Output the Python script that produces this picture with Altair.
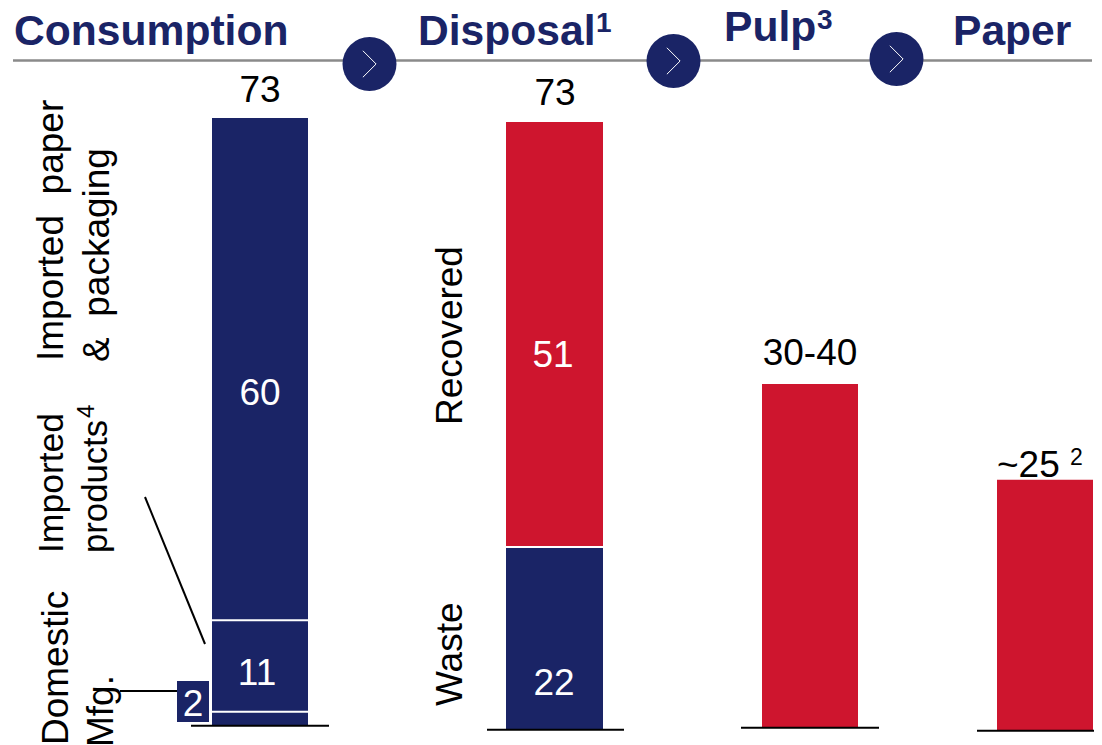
import altair as alt
import pandas as pd

# ---- values ----
STEPS = ["Consumption", "Disposal", "Pulp", "Paper"]
CONSUMPTION_PARTS = ["Domestic Mfg.", "Imported products", "Imported paper & packaging"]
CONSUMPTION_VALUES = [1.6, 11.0, 60.4]      # drawn heights, Mt
CONSUMPTION_LABELS = ["2", "11", "60"]
DISPOSAL_PARTS = ["Waste", "Recovered"]
DISPOSAL_VALUES = [21.9, 51.1]
DISPOSAL_LABELS = ["22", "51"]
PULP_VALUE = [41.25]
PAPER_VALUE = [30.1]
TOTAL_LABELS = ["73", "73", "30-40", "~25"]

# ---- layout (image pixels), kept apart from the values ----
W, H = 1086, 737
PX_PER_UNIT = 8.315
NAVY, RED, GREY = "#1A2466", "#CE152E", "#8A8A8A"
FONT = "Liberation Sans"


def X(px):
    return px - 8


def Y(px):
    return (727 - px) / PX_PER_UNIT


xs = alt.Scale(domain=[0, W], range=[0, W], nice=False, zero=False, padding=0)
ys = alt.Scale(domain=[Y(745), Y(8)], range=[H, 0], nice=False, zero=False, padding=0)
xe = lambda f: alt.X(f, type="quantitative", scale=xs, axis=None)
ye = lambda f: alt.Y(f, type="quantitative", scale=ys, axis=None)
x2e = lambda f: alt.X2(f)
y2e = lambda f: alt.Y2(f)

# column geometry: step -> (left, right, baseline y, axis left, axis right)
COLS = {
    "Consumption": (212, 308, 725, 191, 329),
    "Disposal": (506, 603, 729, 487, 624),
    "Pulp": (762, 858, 727, 741, 879),
    "Paper": (997, 1093, 730, 977, 1094),
}

segments = []
separators = []
for step, parts, values, color in [
    ("Consumption", CONSUMPTION_PARTS, CONSUMPTION_VALUES, [NAVY, NAVY, NAVY]),
    ("Disposal", DISPOSAL_PARTS, DISPOSAL_VALUES, [NAVY, RED]),
    ("Pulp", ["Pulp"], PULP_VALUE, [RED]),
    ("Paper", ["Paper"], PAPER_VALUE, [RED]),
]:
    l, r, base, _, _ = COLS[step]
    start = Y(base)
    for i, (part, v, c) in enumerate(zip(parts, values, color)):
        segments.append(dict(step=step, part=part, x=X(l), x2=X(r), y=start, y2=start + v, c=c))
        start += v
        if i < len(parts) - 1:
            separators.append(dict(x=X(l), x2=X(r), y=start))

bars = alt.Chart(pd.DataFrame(segments)).mark_bar(cornerRadius=0).encode(
    x=xe("x"), x2=x2e("x2"), y=ye("y"), y2=y2e("y2"),
    color=alt.Color("c:N", scale=None, legend=None),
)
seps = alt.Chart(pd.DataFrame(separators)).mark_rule(color="white", strokeWidth=2).encode(
    x=xe("x"), x2=x2e("x2"), y=ye("y")
)
baselines = alt.Chart(pd.DataFrame([
    dict(x=X(c[3]), x2=X(c[4]), y=Y(c[2] + 0.7)) for c in COLS.values()
])).mark_rule(color="black", strokeWidth=2).encode(x=xe("x"), x2=x2e("x2"), y=ye("y"))

header_rule = alt.Chart(pd.DataFrame([dict(x=X(13), x2=X(1092), y=Y(60.5))])).mark_rule(
    color=GREY, strokeWidth=2.5
).encode(x=xe("x"), x2=x2e("x2"), y=ye("y"))

CIRCLES = [(369.5, 64), (673.5, 61), (896.5, 59)]
circ_df = pd.DataFrame([dict(x=X(a), y=Y(b)) for a, b in CIRCLES])
circles = alt.Chart(circ_df).mark_point(
    shape="circle", filled=True, opacity=1, color=NAVY, size=2916
).encode(x=xe("x"), y=ye("y"))
chevrons = alt.Chart(circ_df).mark_point(
    shape="M-0.5,-1L0.5,0L-0.5,1", filled=False, opacity=1, color="white", strokeWidth=1, size=700
).encode(x=xe("x"), y=ye("y"))

# small box and leader lines for the domestic share
box = alt.Chart(pd.DataFrame([dict(x=X(177), x2=X(209), y=Y(722), y2=Y(681))])).mark_rect(color=NAVY).encode(
    x=xe("x"), x2=x2e("x2"), y=ye("y"), y2=y2e("y2")
)
leaders = alt.Chart(pd.DataFrame([
    dict(k="a", i=0, x=X(120), y=Y(691)), dict(k="a", i=1, x=X(177), y=Y(691)),
    dict(k="b", i=0, x=X(145), y=Y(497)), dict(k="b", i=1, x=X(205), y=Y(644)),
])).mark_line(color="black", strokeWidth=2).encode(
    x=xe("x"), y=ye("y"), detail="k:N", order="i:Q"
)


def texts(rows, **mark):
    df = pd.DataFrame([dict(x=X(a), y=Y(b), t=t) for a, b, t in rows])
    return alt.Chart(df).mark_text(font=FONT, baseline="alphabetic", **mark).encode(
        x=xe("x"), y=ye("y"), text="t:N"
    )


totals = texts([
    (260, 102, TOTAL_LABELS[0]), (555, 105, TOTAL_LABELS[1]), (810, 365, TOTAL_LABELS[2]),
], fontSize=37, color="black", align="center")
tilde = texts([(997, 477, TOTAL_LABELS[3])], fontSize=37, color="black", align="left")
tilde_sup = texts([(1070, 465, "2")], fontSize=23, color="black", align="left")

inner = texts([
    (260, 405, CONSUMPTION_LABELS[2]), (257, 685, CONSUMPTION_LABELS[1]), (193, 716, CONSUMPTION_LABELS[0]),
    (553, 367, DISPOSAL_LABELS[1]), (554, 695, DISPOSAL_LABELS[0]),
], fontSize=37, color="white", align="center")

heads = texts([(14, 45, STEPS[0]), (418, 45, STEPS[1]), (724, 41, STEPS[2]), (953, 45, STEPS[3])],
              fontSize=42.6, fontWeight="bold", color=NAVY, align="left")
head_sups = texts([(596, 32, "1"), (817, 29, "3")], fontSize=28, fontWeight="bold", color=NAVY, align="left")

side = texts([
    (63, 361, "Imported\u00a0 paper"), (109, 362, "&\u00a0 packaging"),
    (68, 745, "Domestic"), (113, 747, "Mfg."),
    (462, 425, "Recovered"), (462, 706, "Waste"),
], fontSize=37, color="black", align="left", angle=270)
side_imported = texts([(62.5, 553, "Imported")], fontSize=35.5, color="black", align="left", angle=270)
side_products = texts([(107, 553, "products")], fontSize=34.7, color="black", align="left", angle=270)
side_sup = texts([(94, 418, "4")], fontSize=24, color="black", align="left", angle=270)

chart = alt.layer(
    header_rule, bars, seps, baselines, circles, chevrons, box, leaders,
    totals, tilde, tilde_sup, inner, heads, head_sups, side, side_imported, side_products, side_sup,
).properties(width=W, height=H, padding=0, autosize="none").configure_view(stroke=None)

chart.save("out.html", embed_options={"renderer": "svg", "actions": False})
